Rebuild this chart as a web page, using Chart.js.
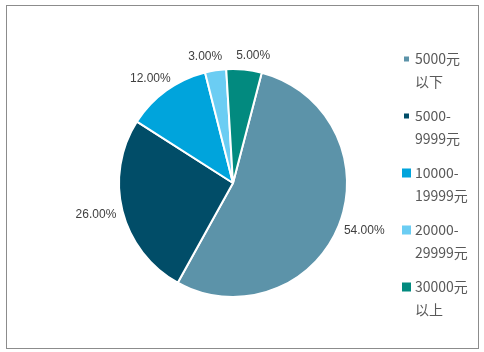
<!DOCTYPE html>
<html>
<head>
<meta charset="utf-8">
<script src="https://cdn.jsdelivr.net/npm/chart.js@4/dist/chart.umd.min.js"></script>
<style>
  html, body { margin: 0; padding: 0; background: #fff; }
  #wrap { width: 484px; height: 352px; }
</style>
</head>
<body>
<div id="wrap"><canvas id="pie" width="484" height="352"></canvas></div>
<script>
// income bands (legend lines) and their shares
const categories = [['5000元', '以下'], ['5000-', '9999元'], ['10000-', '19999元'], ['20000-', '29999元'], ['30000元', '以上']];
const shares = [54, 26, 12, 3, 5];
const colors = ['#5c93a9', '#014d68', '#00a4dc', '#6bcdf3', '#028a7f'];

const frame = {
  id: 'frame',
  beforeDraw(chart) {
    const { ctx } = chart;
    ctx.save();
    ctx.strokeStyle = '#8c8c8c';
    ctx.lineWidth = 1;
    ctx.strokeRect(6.5, 5.5, 472, 343);
    ctx.restore();
  }
};

// outside-end percentage labels, nudged apart when they collide
const sliceLabels = {
  id: 'sliceLabels',
  afterDatasetsDraw(chart) {
    const { ctx } = chart;
    const arcs = chart.getDatasetMeta(0).data;
    const total = shares.reduce((a, b) => a + b, 0);
    ctx.save();
    ctx.font = '12px "Liberation Sans", Arial, sans-serif';
    ctx.fillStyle = '#404040';
    ctx.textBaseline = 'middle';
    ctx.textAlign = 'center';
    const h = 14, gap = 14;
    const boxes = arcs.map((arc, i) => {
      const mid = (arc.startAngle + arc.endAngle) / 2;
      const dx = Math.cos(mid), dy = Math.sin(mid);
      const txt = (shares[i] / total * 100).toFixed(2) + '%';
      const w = ctx.measureText(txt).width;
      const r = arc.outerRadius + 7;
      return { txt, w, x: arc.x + dx * r + dx * w / 2, y: arc.y + dy * r + dy * h / 2 };
    });
    for (let a = 0; a < boxes.length; a++) {
      for (let b = a + 1; b < boxes.length; b++) {
        const A = boxes[a], B = boxes[b];
        if (Math.abs(A.y - B.y) >= h) continue;
        const need = (A.w + B.w) / 2 + gap - Math.abs(A.x - B.x);
        if (need > 0) {
          const s = A.x < B.x ? -1 : 1;
          A.x += s * need / 2;
          B.x -= s * need / 2;
        }
      }
    }
    boxes.forEach(bx => ctx.fillText(bx.txt, bx.x, bx.y));
    ctx.restore();
  }
};

// legend on the right, first line of each item next to a square marker
const sideLegend = {
  id: 'sideLegend',
  afterDraw(chart) {
    const { ctx } = chart;
    const markerSize = [5, 5, 9, 9, 9];
    ctx.save();
    ctx.font = '14px "Noto Sans CJK SC", sans-serif';
    ctx.textBaseline = 'middle';
    ctx.textAlign = 'left';
    categories.forEach((lines, i) => {
      const y0 = 59 + i * 57;
      const s = markerSize[i];
      ctx.fillStyle = colors[i];
      ctx.fillRect(406.5 - s / 2, y0 - s / 2, s, s);
      ctx.fillStyle = '#595959';
      lines.forEach((ln, j) => ctx.fillText(ln, 415, y0 + j * 23));
    });
    ctx.restore();
  }
};

new Chart(document.getElementById('pie'), {
  type: 'pie',
  data: {
    labels: categories,
    datasets: [{
      data: shares,
      backgroundColor: colors,
      borderColor: '#ffffff',
      borderWidth: 2,
      hoverOffset: 0
    }]
  },
  options: {
    responsive: false,
    animation: false,
    rotation: 14.6,
    radius: 114,
    layout: { padding: { left: 4, right: 22, top: 20, bottom: 6 } },
    plugins: { legend: { display: false }, tooltip: { enabled: false } }
  },
  plugins: [frame, sliceLabels, sideLegend]
});
</script>
</body>
</html>
